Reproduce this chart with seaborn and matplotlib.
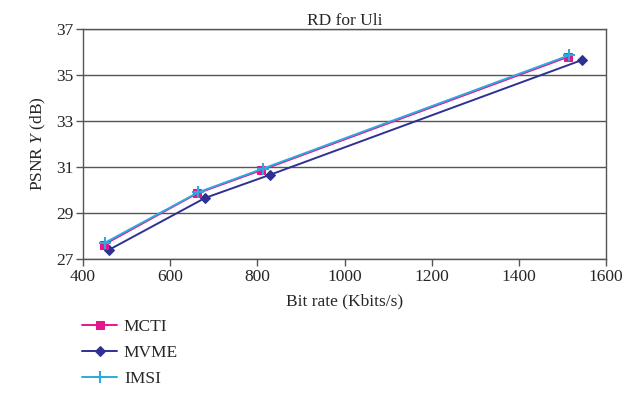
import numpy as np
import pandas as pd
import seaborn as sns
import matplotlib.pyplot as plt

# values
mcti_rate = [448, 662, 808, 1512]
mcti_psnr = [27.62, 29.85, 30.85, 35.78]
mvme_rate = [460, 680, 828, 1545]
mvme_psnr = [27.4, 29.65, 30.65, 35.65]
imsi_rate = [450, 665, 812, 1515]
imsi_psnr = [27.7, 29.9, 30.92, 35.85]

x_ticks = [400, 600, 800, 1000, 1200, 1400, 1600]
y_ticks = [27, 29, 31, 33, 35, 37]

sns.set_style("white")
plt.rcParams['font.family'] = ['Liberation Serif', 'DejaVu Serif']
plt.rcParams['mathtext.fontset'] = 'custom'
plt.rcParams['mathtext.it'] = 'Liberation Serif:italic'
plt.rcParams['mathtext.rm'] = 'Liberation Serif'

fig = plt.figure(figsize=(6.38, 4.19), dpi=100)
ax = fig.add_axes([0.130, 0.382, 0.820, 0.549])

sns.lineplot(x=mvme_rate, y=mvme_psnr, ax=ax, color='#2E3192', marker='D',
             markersize=5, markeredgecolor='#2E3192', linewidth=1.4,
             label='MVME', sort=False, zorder=3)
sns.lineplot(x=mcti_rate, y=mcti_psnr, ax=ax, color='#E6168C', marker='s',
             markersize=6, markeredgecolor='#E6168C', linewidth=1.4,
             label='MCTI', sort=False, zorder=4)
sns.lineplot(x=imsi_rate, y=imsi_psnr, ax=ax, color='#2EA9DF', marker='+',
             markersize=8, markeredgewidth=1.5, markeredgecolor='#2EA9DF',
             linewidth=1.4, label='IMSI', sort=False, zorder=5)

ax.set_xlim(400, 1600)
ax.set_ylim(27, 37)
ax.set_xticks(x_ticks)
ax.set_yticks(y_ticks)
ax.yaxis.grid(True, color='#555555', linewidth=1.0)
ax.xaxis.grid(False)
for s in ax.spines.values():
    s.set_color('#555555')
    s.set_linewidth(1.0)
ax.tick_params(axis='both', direction='out', length=5, width=1, color='#555555',
               labelsize=12.5, bottom=True, left=True, pad=2)
ax.set_xlabel('Bit rate (Kbits/s)', fontsize=12.5, labelpad=6)
ax.set_ylabel('PSNR $\\mathit{Y}$ (dB)', fontsize=12.5, labelpad=6)
ax.set_title('RD for Uli', fontsize=12.5, pad=3)

handles, labels = ax.get_legend_handles_labels()
order = [labels.index(n) for n in ['MCTI', 'MVME', 'IMSI']]
ax.get_legend().remove()
fig.legend([handles[i] for i in order], [labels[i] for i in order],
           loc='upper left', bbox_to_anchor=(0.118, 0.255), frameon=False,
           fontsize=12.5, handlelength=2.0, labelspacing=0.55, handletextpad=0.4,
           borderaxespad=0)

fig.savefig('out.png', dpi=100)
